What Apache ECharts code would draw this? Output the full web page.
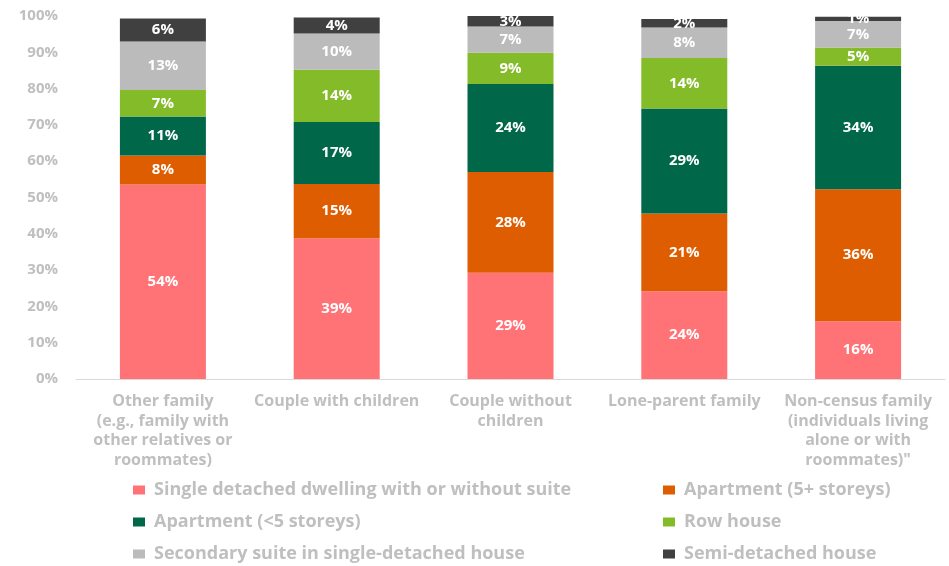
<!DOCTYPE html>
<html>
<head>
<meta charset="utf-8">
<script src="https://cdn.jsdelivr.net/npm/echarts@6/dist/echarts.min.js"></script>
<style>html,body{margin:0;padding:0;background:#fff}#c{width:949px;height:566px}</style>
</head>
<body>
<div id="c"></div>
<script>
var categories = [
  "Other family\n(e.g., family with\nother relatives or\nroommates)",
  "Couple with children",
  "Couple without\nchildren",
  "Lone-parent family",
  "Non-census family\n(individuals living\nalone or with\nroommates)\""
];
var seriesNames = [
  "Single detached dwelling with or without suite",
  "Apartment (5+ storeys)",
  "Apartment (<5 storeys)",
  "Row house",
  "Secondary suite in single-detached house",
  "Semi-detached house"
];
var singleDetached = [53.6, 38.8, 29.3, 24.2, 15.9];
var apt5plus = [8.0, 14.9, 27.7, 21.4, 36.4];
var aptUnder5 = [10.7, 17.1, 24.3, 28.9, 34.0];
var rowHouse = [7.3, 14.4, 8.6, 13.9, 5.0];
var secondarySuite = [13.4, 10.0, 7.2, 8.4, 7.3];
var semiDetached = [6.3, 4.4, 2.9, 2.4, 1.2];
var yTicks = {min: 0, max: 100, interval: 10};

var colors = ["#FF7276", "#DE5D00", "#006848", "#84BB29", "#BBBBBB", "#404040"];
var values = [singleDetached, apt5plus, aptUnder5, rowHouse, secondarySuite, semiDetached];
var FONT = "Open Sans";
var GREY = "#BFBFBF";

var series = seriesNames.map(function (n, i) {
  return {
    name: n, type: "bar", stack: "total", data: values[i], barWidth: 86,
    itemStyle: {color: colors[i]},
    label: {show: true, position: "inside", color: "#fff",
      formatter: function (p) { return Math.round(p.value) + "%"; },
      fontFamily: FONT, fontWeight: "bold", fontSize: 15}
  };
});

var legendText = {color: GREY, fontFamily: FONT, fontWeight: "bold", fontSize: 18, padding: [0, 0, 0, 4]};
var chart = echarts.init(document.getElementById("c"));
chart.setOption({
  animation: false,
  grid: {left: 76, right: 4, top: 16, bottom: 187, containLabel: false},
  xAxis: {
    type: "category", data: categories,
    axisLine: {lineStyle: {color: "#D9D9D9", width: 1}},
    axisTick: {show: false},
    axisLabel: {color: GREY, fontFamily: FONT, fontWeight: "bold", fontSize: 16,
      lineHeight: 19.5, margin: 13, interval: 0}
  },
  yAxis: {
    type: "value", min: yTicks.min, max: yTicks.max, interval: yTicks.interval,
    splitLine: {show: false},
    axisLine: {show: false}, axisTick: {show: false},
    axisLabel: {formatter: "{value}%", color: GREY, fontFamily: FONT, fontWeight: "bold",
      fontSize: 15, margin: 18}
  },
  legend: [
    {data: [seriesNames[0], seriesNames[2], seriesNames[4]], orient: "vertical",
      left: 128, top: 476, height: 120, itemWidth: 12, itemHeight: 9, itemGap: 14, icon: "rect",
      textStyle: legendText},
    {data: [seriesNames[1], seriesNames[3], seriesNames[5]], orient: "vertical",
      left: 658, top: 476, height: 120, itemWidth: 12, itemHeight: 9, itemGap: 14, icon: "rect",
      textStyle: legendText}
  ],
  series: series
});
</script>
</body>
</html>
